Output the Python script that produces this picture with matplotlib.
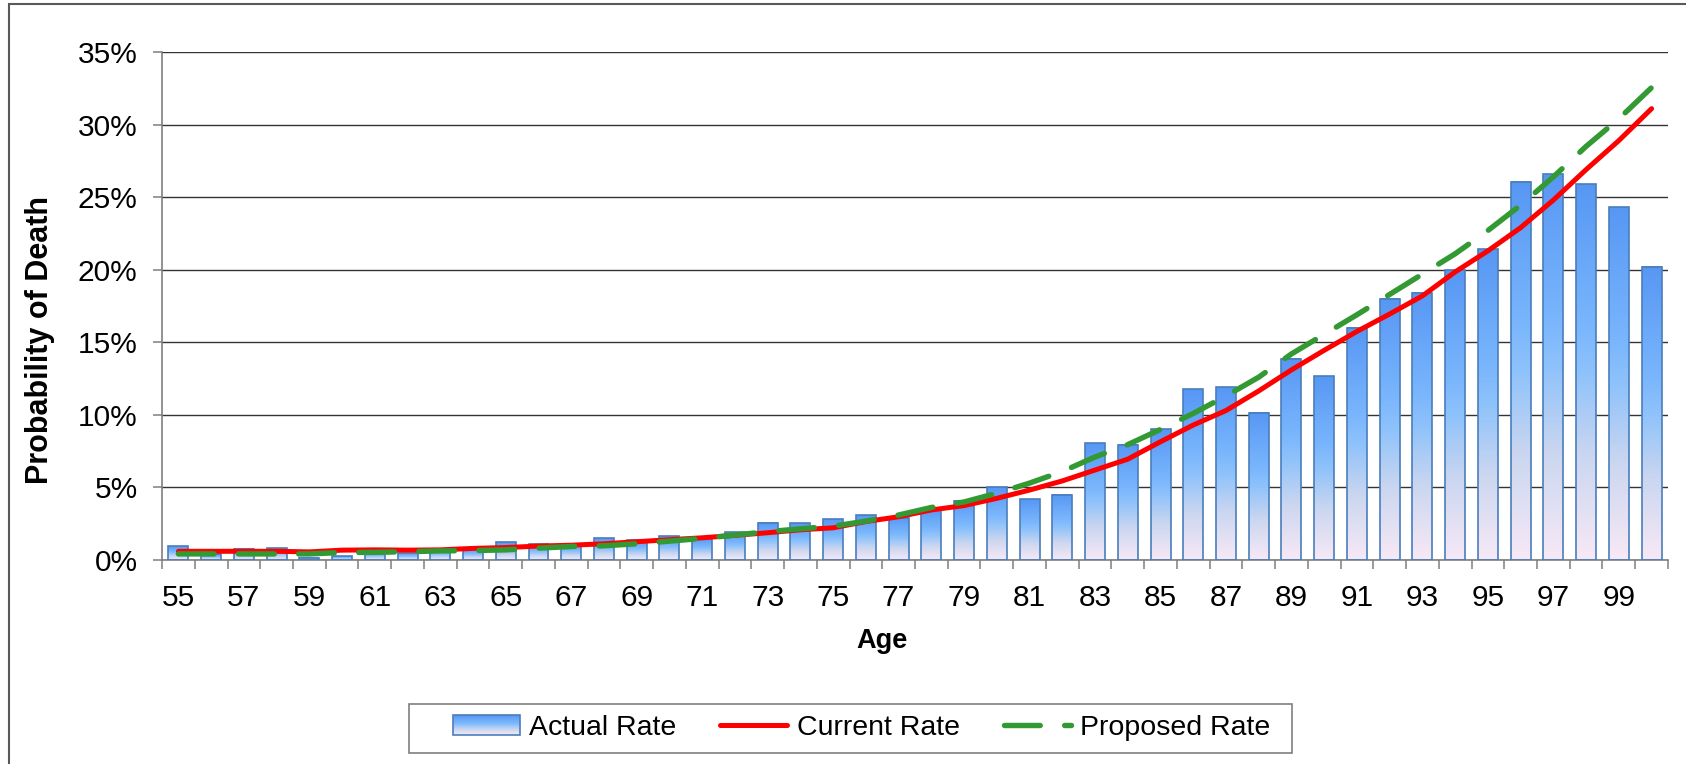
import numpy as np
import matplotlib
matplotlib.use('Agg')
import matplotlib.pyplot as plt
from matplotlib.colors import LinearSegmentedColormap
from matplotlib.legend_handler import HandlerBase
from matplotlib.image import BboxImage
from matplotlib.transforms import Bbox, TransformedBbox
from matplotlib.patches import Rectangle
from matplotlib.ticker import PercentFormatter, FixedLocator

plt.rcParams['font.family'] = ['Liberation Sans', 'DejaVu Sans']

# Mortality by age, in percent
ages = list(range(55, 101))
actual_rate = [0.94, 0.40, 0.78, 0.82, 0.16, 0.27, 0.55, 0.45, 0.70, 0.75,
               1.21, 1.10, 1.12, 1.51, 1.37, 1.62, 1.45, 1.90, 2.56, 2.54,
               2.81, 3.07, 2.90, 3.45, 4.10, 5.00, 4.20, 4.48, 8.05, 7.93,
               9.00, 11.77, 11.90, 10.16, 13.86, 12.66, 16.00, 18.00, 18.40, 19.95,
               21.40, 26.06, 26.57, 25.90, 24.30, 20.20]
current_rate = [0.60, 0.60, 0.60, 0.60, 0.56, 0.68, 0.70, 0.68, 0.70, 0.80,
                0.86, 0.96, 1.02, 1.12, 1.26, 1.40, 1.53, 1.70, 1.88, 2.08,
                2.22, 2.65, 2.98, 3.45, 3.75, 4.25, 4.82, 5.45, 6.20, 6.95,
                8.15, 9.30, 10.30, 11.65, 13.10, 14.45, 15.75, 16.95, 18.20, 19.85,
                21.30, 22.90, 24.80, 26.90, 28.90, 31.10]
proposed_rate = [0.42, 0.42, 0.42, 0.42, 0.42, 0.52, 0.53, 0.57, 0.63, 0.65,
                 0.70, 0.82, 0.93, 0.98, 1.12, 1.30, 1.49, 1.72, 1.95, 2.15,
                 2.33, 2.68, 3.10, 3.62, 4.00, 4.60, 5.30, 6.10, 7.10, 7.95,
                 9.00, 10.10, 11.30, 12.60, 14.20, 15.55, 16.90, 18.30, 19.70, 21.10,
                 22.70, 24.45, 26.40, 28.50, 30.40, 32.55]
y_ticks = [0, 5, 10, 15, 20, 25, 30, 35]

bar_cmap = LinearSegmentedColormap.from_list('bar_fill', [
    (0.0, '#F8E9F6'), (0.28, '#CAD6F0'), (0.5, '#8EC2FB'),
    (0.62, '#7AB6FD'), (1.0, '#5797F4')])
grad = np.linspace(0, 1, 256).reshape(-1, 1)
edge_blue = '#4A7EBB'


class GradientPatchHandler(HandlerBase):
    def create_artists(self, legend, orig_handle, xdescent, ydescent,
                       width, height, fontsize, trans):
        box = TransformedBbox(Bbox.from_bounds(-xdescent, -ydescent, width, height), trans)
        img = BboxImage(box, cmap=bar_cmap, interpolation='bilinear', origin='lower')
        img.set_data(grad)
        rect = Rectangle((-xdescent, -ydescent), width, height, fill=False,
                         edgecolor=edge_blue, linewidth=1.2, transform=trans)
        return [img, rect]


fig = plt.figure(figsize=(16.86, 7.64), dpi=100)
ax = fig.add_axes([0.0961, 0.2670, 0.8932, 0.6649])

x = np.arange(len(ages))
bar_w = 0.61

# gradient-filled bars, each gradient spans its own bar height
for xi, h in zip(x, actual_rate):
    ax.imshow(grad, cmap=bar_cmap, origin='lower', aspect='auto',
              extent=[xi - bar_w / 2, xi + bar_w / 2, 0, h],
              interpolation='bilinear', zorder=2)
bars = ax.bar(x, actual_rate, width=bar_w, facecolor='none',
              edgecolor=edge_blue, linewidth=1.2, zorder=3)

red, = ax.plot(x, current_rate, color='#FF0000', lw=3.6, zorder=4,
               solid_capstyle='round', label='Current Rate')
green, = ax.plot(x, proposed_rate, color='#339933', lw=3.9, zorder=5,
                 dashes=(6.6, 4.5), dash_capstyle='round', label='Proposed Rate')

ax.set_xlim(-0.5, len(ages) - 0.5)
ax.set_ylim(0, 35)

# axes styling
for side in ['top', 'right']:
    ax.spines[side].set_visible(False)
for side in ['left', 'bottom']:
    ax.spines[side].set_color('#7F7F7F')
    ax.spines[side].set_linewidth(1.2)

ax.set_yticks(y_ticks)
ax.yaxis.set_major_formatter(PercentFormatter(decimals=0))
ax.yaxis.grid(True, color='#333333', linewidth=1.0, zorder=0)
ax.set_axisbelow(True)
ax.tick_params(axis='y', direction='out', length=6.5, width=1.1,
               color='#7F7F7F', labelsize=21.5, pad=11)

ax.set_xticks(x[::2])
ax.set_xticklabels([str(a) for a in ages[::2]])
ax.xaxis.set_minor_locator(FixedLocator(np.arange(-0.5, len(ages), 1.0)))
ax.tick_params(axis='x', which='major', length=0, labelsize=21.5, pad=17)
ax.tick_params(axis='x', which='minor', direction='out', length=6.5,
               width=1.1, color='#7F7F7F')

ax.set_ylabel('Probability of Death', fontsize=22, fontweight='bold')
ax.yaxis.set_label_coords(-0.071, 0.433)
ax.set_xlabel('Age', fontsize=19.5, fontweight='bold')
ax.xaxis.set_label_coords(0.478, -0.133)

bar_proxy = Rectangle((0, 0), 1, 1)
leg = fig.legend([bar_proxy, red, green], ['Actual Rate', 'Current Rate', 'Proposed Rate'],
                 handler_map={Rectangle: GradientPatchHandler()},
                 loc='center', bbox_to_anchor=(0.511, 0.047), ncol=3,
                 fontsize=20.5, frameon=False,
                 handlelength=2.35, handletextpad=0.33, columnspacing=1.55,
                 borderpad=0.3, borderaxespad=0)

# legend box and chart area outline
fig.add_artist(Rectangle((409 / 1686, 1 - 753 / 764), 883 / 1686, 49 / 764,
                         transform=fig.transFigure, fill=False,
                         edgecolor='#7F7F7F', linewidth=1.2))
fig.add_artist(Rectangle((9 / 1686, -0.1), 1.2, 1 - 4 / 764 + 0.1,
                         transform=fig.transFigure, fill=False,
                         edgecolor='#595959', linewidth=1.5))

fig.savefig('out.png', dpi=100)
